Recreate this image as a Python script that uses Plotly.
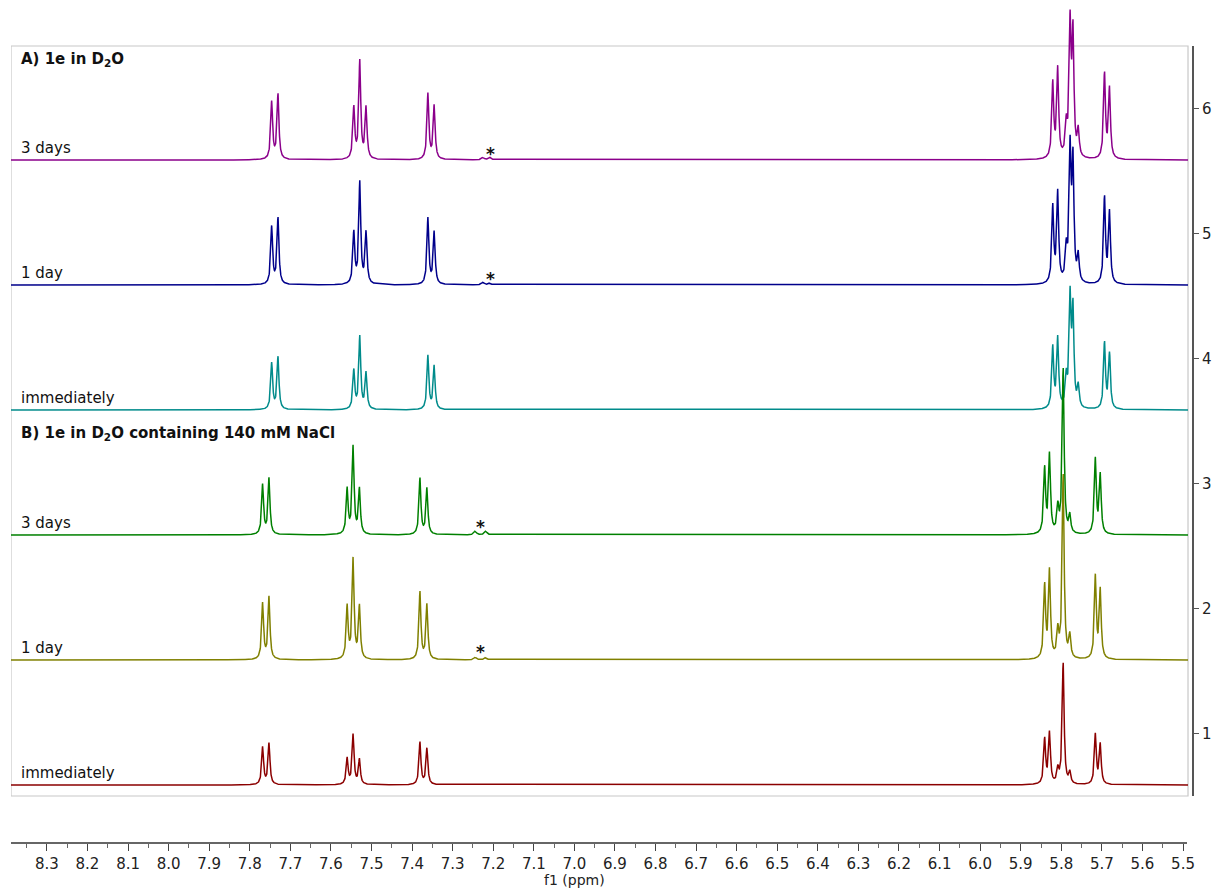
import numpy as np
import plotly.graph_objects as go

# ---- data -------------------------------------------------------------
# chemical-shift window shown on the f1 axis (ppm, high -> low)
PPM_LEFT, PPM_RIGHT = 8.3885, 5.4754
SPEC_RIGHT = 5.4877          # spectra end at the frame edge
LINE_HWHM = 0.0028           # Lorentzian half width at half maximum (ppm)
IMP_HWHM = 0.004

# peak positions (ppm) of 1e in plain D2O (series A)
shifts_a = [7.7460, 7.7305, 7.5436, 7.5289, 7.5134, 7.3610, 7.3455,
            5.8210, 5.8088, 5.7877, 5.7782, 5.7712, 5.7582, 5.6935, 5.6812]
# peak positions (ppm) of 1e in D2O with 140 mM NaCl (series B)
shifts_b = [7.7683, 7.7526, 7.5600, 7.5453, 7.5298, 7.3806, 7.3634,
            5.8410, 5.8290, 5.8085, 5.7954, 5.7790, 5.7160, 5.7040]
# small impurity signals (marked with *)
impurity_a = [7.2255, 7.2085]
impurity_b = [7.2445, 7.2185]

# peak intensities for each measurement
h_a_3days = [0.460, 0.520, 0.410, 0.780, 0.410, 0.525, 0.430,
             0.600, 0.710, 0.240, 1.040, 0.960, 0.210, 0.680, 0.560]
h_a_1day = [0.460, 0.530, 0.410, 0.810, 0.410, 0.530, 0.420,
            0.610, 0.720, 0.250, 1.040, 0.940, 0.210, 0.690, 0.570]
h_a_immed = [0.370, 0.420, 0.310, 0.580, 0.290, 0.430, 0.350,
             0.490, 0.560, 0.230, 0.860, 0.760, 0.170, 0.530, 0.440]
h_b_3days = [0.400, 0.450, 0.360, 0.700, 0.360, 0.450, 0.370,
             0.520, 0.630, 0.200, 1.320, 0.140, 0.600, 0.470]
h_b_1day = [0.450, 0.500, 0.420, 0.800, 0.420, 0.540, 0.440,
            0.580, 0.700, 0.210, 1.470, 0.180, 0.660, 0.550]
h_b_immed = [0.300, 0.330, 0.210, 0.400, 0.200, 0.340, 0.290,
             0.360, 0.410, 0.110, 0.970, 0.090, 0.400, 0.320]

imp_a_3days = [0.020, 0.020]
imp_a_1day = [0.020, 0.015]
imp_a_immed = [0.0, 0.0]
imp_b_3days = [0.030, 0.030]
imp_b_1day = [0.020, 0.020]
imp_b_immed = [0.0, 0.0]

# stacking offsets (units of the right-hand intensity axis)
baselines = [5.588, 4.588, 3.588, 2.588, 1.588, 0.588]
trace_labels = ["3 days", "1 day", "immediately", "3 days", "1 day", "immediately"]
trace_colors = ["#8B008B", "#00008B", "#008B8B", "#008000", "#808000", "#8B0000"]

right_ticks = [1, 2, 3, 4, 5, 6]

spectra = [
    (shifts_a, h_a_3days, impurity_a, imp_a_3days),
    (shifts_a, h_a_1day, impurity_a, imp_a_1day),
    (shifts_a, h_a_immed, impurity_a, imp_a_immed),
    (shifts_b, h_b_3days, impurity_b, imp_b_3days),
    (shifts_b, h_b_1day, impurity_b, imp_b_1day),
    (shifts_b, h_b_immed, impurity_b, imp_b_immed),
]

# ---- line shapes --------------------------------------------------------
ppm = np.linspace(SPEC_RIGHT, PPM_LEFT, 7000)


def lorentz_sum(pos, hts, width):
    out = np.zeros_like(ppm)
    for p, h in zip(pos, hts):
        out += h / (1.0 + ((ppm - p) / width) ** 2)
    return out


fig = go.Figure()
for (pos, hts, ipos, ihts), base, col in zip(spectra, baselines, trace_colors):
    y = base + lorentz_sum(pos, hts, LINE_HWHM) + lorentz_sum(ipos, ihts, IMP_HWHM)
    fig.add_trace(go.Scatter(x=ppm, y=y, mode="lines",
                             line=dict(color=col, width=1.5),
                             showlegend=False, hoverinfo="skip"))

# helper trace so the right-hand axis is rendered
fig.add_trace(go.Scatter(x=[None], y=[None], yaxis="y2", showlegend=False,
                         hoverinfo="skip"))

# ---- layout ---------------------------------------------------------------
W, H = 1217, 888
ML, MR, MT, MB = 11, 21, 5, 45
plot_h = H - MT - MB
FONT = "DejaVu Sans"

fig.update_layout(
    width=W, height=H,
    margin=dict(l=ML, r=MR, t=MT, b=MB),
    paper_bgcolor="white", plot_bgcolor="rgba(0,0,0,0)",
    font=dict(family=FONT, size=15, color="#222"),
    xaxis=dict(range=[PPM_LEFT, PPM_RIGHT], showgrid=False, zeroline=False,
               showline=False, tickmode="linear", tick0=0, dtick=0.1,
               tickformat=".1f", ticks="outside", ticklen=7, tickwidth=1.3,
               tickcolor="#444", tickfont=dict(size=15, color="#222"),
               minor=dict(dtick=0.05, tick0=0, ticks="outside", ticklen=4,
                          tickwidth=1, tickcolor="#666", showgrid=False)),
    yaxis=dict(range=[0.124, 6.828], visible=False, fixedrange=True),
    yaxis2=dict(range=[0.5, 6.5], domain=[47 / plot_h, 797 / plot_h],
                anchor="free", position=1.0, side="right", showgrid=False,
                zeroline=False, showline=True, linecolor="#555", linewidth=2,
                tickmode="array", tickvals=right_ticks, ticks="outside",
                ticklen=5, tickwidth=1.3, tickcolor="#555",
                tickfont=dict(size=15, color="#222")),
)

# frame around the stacked spectra
fig.add_shape(type="rect", xref="x", yref="y", x0=PPM_LEFT, x1=SPEC_RIGHT,
              y0=0.5, y1=6.5, line=dict(color="#c8c8c8", width=1.2),
              layer="below")
# f1 axis line
fig.add_shape(type="line", xref="paper", yref="paper", x0=0,
              x1=(1190 - ML) / (W - ML - MR), y0=0, y1=0,
              line=dict(color="#333", width=1.5))

label_x = (19 - ML) / (W - ML - MR)
for lab, base in zip(trace_labels, baselines):
    fig.add_annotation(text=lab, xref="paper", yref="y", x=label_x, y=base + 0.10,
                       xanchor="left", yanchor="middle", showarrow=False,
                       font=dict(size=15, color="#111", family=FONT))

fig.add_annotation(text="<b>A) 1e in D<sub>2</sub>O</b>", xref="paper", yref="y",
                   x=label_x, y=6.39, xanchor="left", yanchor="middle",
                   showarrow=False, font=dict(size=15, color="#111", family=FONT))
fig.add_annotation(text="<b>B) 1e in D<sub>2</sub>O containing 140 mM NaCl</b>",
                   xref="paper", yref="y", x=label_x, y=3.40, xanchor="left",
                   yanchor="middle", showarrow=False,
                   font=dict(size=15, color="#111", family=FONT))

# impurity markers
star_marks = [(7.207, baselines[0] + 0.05), (7.207, baselines[1] + 0.05),
              (7.2314, baselines[3] + 0.065), (7.2314, baselines[4] + 0.065)]
for sx, sy in star_marks:
    fig.add_annotation(text="*", xref="x", yref="y", x=sx, y=sy,
                       xanchor="center", yanchor="middle", showarrow=False,
                       font=dict(size=17, color="#111", family=FONT,
                                 weight="bold"))

fig.add_annotation(text="f1 (ppm)", xref="paper", yref="paper",
                   x=(576 - ML) / (W - ML - MR), y=-(880 - (H - MB)) / plot_h,
                   xanchor="center", yanchor="middle", showarrow=False,
                   font=dict(size=14, color="#222", family=FONT))

fig.write_html("out.html")
